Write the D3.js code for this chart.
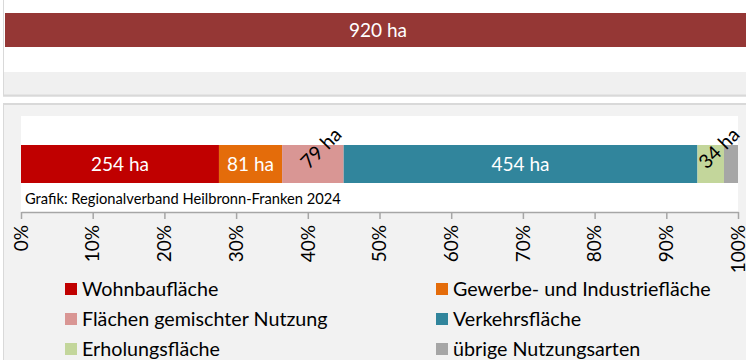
<!DOCTYPE html>
<html>
<head>
<meta charset="utf-8">
<script src="https://cdn.jsdelivr.net/npm/d3@7"></script>
<style>
  html, body { margin: 0; padding: 0; background: #fff; }
  svg { display: block; font-family: Lato, "Open Sans", sans-serif; }
</style>
</head>
<body>
<svg id="chart" width="746" height="360"></svg>
<script>
// Flächenneuinanspruchnahme nach Nutzungsart (ha)
const categories = [
  "Wohnbaufläche",
  "Gewerbe- und Industriefläche",
  "Flächen gemischter Nutzung",
  "Verkehrsfläche",
  "Erholungsfläche",
  "übrige Nutzungsarten"
];
const values = [254, 81, 79, 454, 34, 18];
const valueLabels = ["254 ha", "81 ha", "79 ha", "454 ha", "34 ha", ""];
const rotatedLabel = [false, false, true, false, true, false];
const colors = ["#C00000", "#E46C0A", "#D99694", "#31859C", "#C3D69B", "#A6A6A6"];
const totalValues = [920];
const totalLabels = ["920 ha"];
const tickValues = [0, 0.1, 0.2, 0.3, 0.4, 0.5, 0.6, 0.7, 0.8, 0.9, 1.0];
const tickLabels = ["0%", "10%", "20%", "30%", "40%", "50%", "60%", "70%", "80%", "90%", "100%"];
const sourceText = "Grafik: Regionalverband Heilbronn-Franken 2024";

const svg = d3.select("#chart");
const W = 746, H = 360;

// ---------- upper panel: total ----------
const upper = svg.append("g");
upper.append("rect").attr("x", 3.5).attr("y", -1).attr("width", W).attr("height", 97)
  .attr("fill", "#fff").attr("stroke", "#D9D9D9").attr("stroke-width", 1);
upper.append("rect").attr("x", 4).attr("y", 72).attr("width", W).attr("height", 23)
  .attr("fill", "#F0F0F0");
upper.append("line").attr("x1", 3).attr("x2", W).attr("y1", 95.5).attr("y2", 95.5)
  .attr("stroke", "#D9D9D9").attr("stroke-width", 2);

const xTop = d3.scaleLinear().domain([0, totalValues[0]]).range([5, 751]);
const yTop = d3.scaleBand().domain(totalLabels).range([13, 47]).padding(0);

upper.selectAll("rect.total").data(totalValues).join("rect")
  .attr("class", "total")
  .attr("x", xTop(0))
  .attr("y", (d, i) => yTop(totalLabels[i]))
  .attr("width", d => xTop(d) - xTop(0))
  .attr("height", yTop.bandwidth())
  .attr("fill", "#953735");

upper.selectAll("text.total").data(totalValues).join("text")
  .attr("class", "total")
  .attr("x", d => (xTop(0) + xTop(d)) / 2)
  .attr("y", (d, i) => yTop(totalLabels[i]) + yTop.bandwidth() / 2)
  .attr("dy", "0.36em")
  .attr("text-anchor", "middle")
  .attr("font-size", 19)
  .attr("fill", "#fff")
  .text((d, i) => totalLabels[i]);

// ---------- lower panel: composition ----------
const lower = svg.append("g");
lower.append("rect").attr("x", 3.5).attr("y", 104).attr("width", W).attr("height", H)
  .attr("fill", "#F2F2F2").attr("stroke", "#D9D9D9").attr("stroke-width", 1);
lower.append("line").attr("x1", 3).attr("x2", W).attr("y1", 104).attr("y2", 104)
  .attr("stroke", "#D9D9D9").attr("stroke-width", 2);

const plotL = 21, plotR = 738, plotT = 116, plotB = 212;
lower.append("rect").attr("x", plotL).attr("y", plotT)
  .attr("width", plotR - plotL).attr("height", plotB - plotT).attr("fill", "#fff");

const total = d3.sum(values);
const x = d3.scaleLinear().domain([0, 1]).range([plotL, plotR]);
const y = d3.scaleBand().domain(["Anteil"]).range([145, 183]);

const stacked = [];
let acc = 0;
values.forEach((v, i) => {
  stacked.push({ i, v, x0: acc / total, x1: (acc + v) / total });
  acc += v;
});

lower.selectAll("rect.seg").data(stacked).join("rect")
  .attr("class", "seg")
  .attr("x", d => x(d.x0))
  .attr("y", y("Anteil"))
  .attr("width", d => x(d.x1) - x(d.x0))
  .attr("height", y.bandwidth())
  .attr("fill", d => colors[d.i]);

const cy = y("Anteil") + y.bandwidth() / 2;
lower.selectAll("text.seg").data(stacked.filter(d => valueLabels[d.i])).join("text")
  .attr("class", "seg")
  .attr("text-anchor", "middle")
  .attr("dy", "0.36em")
  .attr("font-size", d => rotatedLabel[d.i] ? 19.5 : 19)
  .attr("fill", d => rotatedLabel[d.i] ? "#000" : "#fff")
  .attr("transform", d => {
    const cx = (x(d.x0) + x(d.x1)) / 2;
    return rotatedLabel[d.i]
      ? `translate(${cx + 8},${cy - 16}) rotate(-45)`
      : `translate(${cx},${cy})`;
  })
  .text(d => valueLabels[d.i]);

lower.append("text")
  .attr("x", 25).attr("y", 204)
  .attr("font-size", 14.7)
  .attr("fill", "#000")
  .text(sourceText);

// axis
const axis = d3.axisBottom(x).tickValues(tickValues)
  .tickFormat((d, i) => tickLabels[i]).tickSize(7).tickSizeOuter(0);
const ax = lower.append("g").attr("transform", `translate(0,${plotB})`).call(axis);
ax.select(".domain").attr("stroke", "#A6A6A6").attr("stroke-width", 1.5);
ax.selectAll(".tick line").attr("stroke", "#A6A6A6").attr("stroke-width", 1.5);
ax.selectAll(".tick text")
  .attr("font-family", "Lato, 'Open Sans', sans-serif")
  .attr("font-size", 19)
  .attr("fill", "#000")
  .attr("text-anchor", "end")
  .attr("transform", "rotate(-90)")
  .attr("x", -13)
  .attr("y", 0)
  .attr("dy", "0.33em");

// legend
const legendOrder = [0, 1, 2, 3, 4, 5];
const legend = lower.selectAll("g.leg").data(legendOrder).join("g")
  .attr("class", "leg")
  .attr("transform", (d, k) => `translate(${k % 2 === 0 ? 65 : 436},${283 + Math.floor(k / 2) * 30})`);
legend.append("rect").attr("width", 12).attr("height", 12).attr("fill", d => colors[d]);
legend.append("text").attr("x", 17).attr("y", 12.5)
  .attr("font-size", 19.7).attr("fill", "#000")
  .text(d => categories[d]);
</script>
</body>
</html>
